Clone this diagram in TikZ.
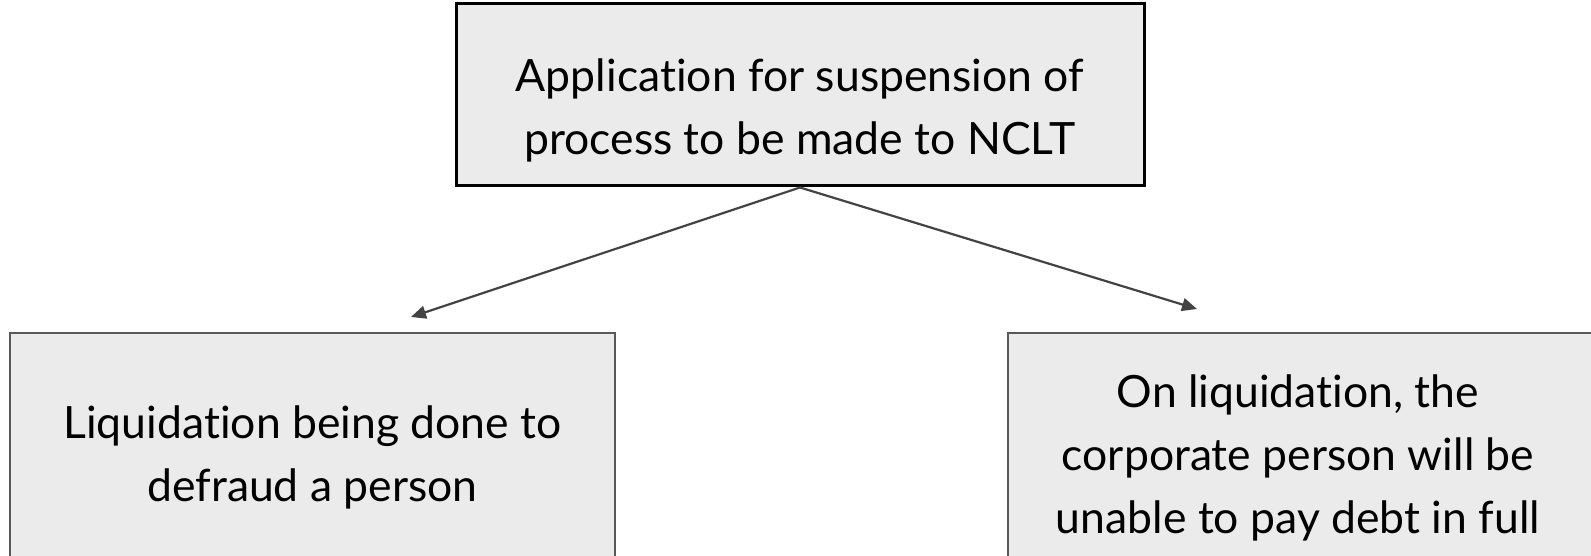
\documentclass[tikz,border=0pt]{standalone}
\usepackage{fontspec}
\setmainfont{Lato}[Ligatures=NoCommon]
\usetikzlibrary{arrows.meta}
\definecolor{boxfill}{HTML}{EBEBEB}
\definecolor{thinline}{HTML}{595959}
\definecolor{arrowcol}{HTML}{434343}
\begin{document}
\begin{tikzpicture}[x=1pt,y=-1pt,
  txt/.style={align=center,font=\fontsize{44.5}{63}\selectfont,text=black,inner sep=0pt},
  topbox/.style={draw=black,line width=3pt,fill=boxfill,inner sep=0pt},
  subbox/.style={draw=thinline,line width=1.5pt,fill=boxfill,inner sep=0pt},
  conn/.style={draw=arrowcol,line width=2.2pt,-{Triangle[length=15pt,width=13pt]}}]
\useasboundingbox (0,0) rectangle (1591,556);
\clip (0,0) rectangle (1591,556);
\node[topbox,minimum width=688pt,minimum height=182pt] (top) at (800,95) {};
\node[txt] (toptext) at (800,110)
  {Application for suspension of\\process to be made to NCLT};
\node[subbox,minimum width=605pt,minimum height=238pt] (left) at (312.5,452) {};
\node[txt] (lefttext) at (312.5,457)
  {Liquidation being done to\\defraud a person};
\node[subbox,minimum width=592pt,minimum height=238pt] (right) at (1304,452) {};
\node[txt] (righttext) at (1298,458)
  {On liquidation, the\\corporate person will be\\unable to pay debt in full};
\coordinate (lt) at (411,317);
\coordinate (rt) at (1197,309);
\draw[conn] (top.south) -- (lt);
\draw[conn] (top.south) -- (rt);
\end{tikzpicture}
\end{document}
